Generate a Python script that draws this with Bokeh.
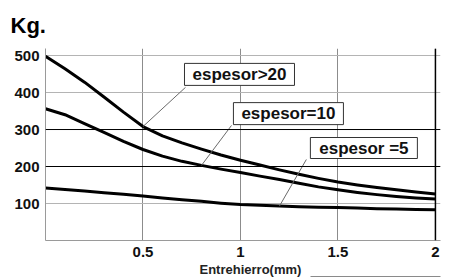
from bokeh.plotting import figure
from bokeh.models import (Label, Span, FixedTicker, ColumnDataSource, Range1d, Title,
                          LinearAxis)
from bokeh.embed import file_html
from bokeh.resources import INLINE

# ---- data ----
gap_mm = [0, 0.1, 0.2, 0.3, 0.4, 0.5, 0.6, 0.7, 0.8, 0.9, 1.0,
          1.1, 1.2, 1.3, 1.4, 1.5, 1.6, 1.7, 1.8, 1.9, 2.0]
kg_esp_gt20 = [498, 464, 428, 388, 347, 308, 283, 264, 247, 231, 217,
               204, 191, 179, 168, 158, 150, 143, 137, 131, 126]
kg_esp_10 = [356, 340, 316, 292, 268, 246, 228, 214, 203, 193, 184,
             174, 165, 155, 145, 137, 130, 124, 119, 115, 112]
kg_esp_5 = [142, 138, 134, 129, 125, 120, 115, 110, 106, 101, 97,
            95, 93, 91, 90, 89, 88, 86, 85, 84, 83]

series_names = ["espesor>20", "espesor=10", "espesor =5"]
x_ticks = [0.5, 1, 1.5, 2]
x_tick_labels = ["0.5", "1", "1.5", "2"]
y_ticks = [100, 200, 300, 400, 500]
y_dark_lines = [200, 300]

y_title = "Kg."
x_title = "Entrehierro(mm)"

FONT = "Liberation Sans"

src = ColumnDataSource(dict(x=gap_mm, a=kg_esp_gt20, b=kg_esp_10, c=kg_esp_5))

p = figure(width=449, height=278,
           x_range=Range1d(0, 2.026), y_range=Range1d(0, 519),
           output_backend="svg", toolbar_location=None,
           min_border_left=45, min_border_right=9,
           min_border_top=48, min_border_bottom=38)
p.outline_line_color = None
p.background_fill_color = "white"
p.border_fill_color = "white"

# title "Kg."
p.title.text = y_title
p.title.align = "left"
p.title.offset = -35
p.title.standoff = 21
p.title.text_font = FONT
p.title.text_font_size = "22px"
p.title.text_font_style = "bold"
p.title.text_color = "black"

# axes
for ax in (p.xaxis[0], p.yaxis[0]):
    ax.axis_line_color = "#9a9a9a"
    ax.axis_line_width = 1
    ax.major_tick_out = 0
    ax.major_tick_in = 0
    ax.minor_tick_out = 0
    ax.minor_tick_in = 0
    ax.major_label_text_font = FONT
    ax.major_label_text_font_style = "bold"
    ax.major_label_text_font_size = "15px"
    ax.major_label_text_color = "#111111"

p.xaxis.ticker = FixedTicker(ticks=x_ticks)
p.yaxis.ticker = FixedTicker(ticks=y_ticks)
p.xaxis.major_label_overrides = dict(zip(x_ticks, x_tick_labels))
p.xaxis.major_label_standoff = 6
p.yaxis.major_label_standoff = 6

# x axis title, below the tick labels, left aligned like the reference
p.add_layout(Title(text=x_title, align="left", offset=154, standoff=0,
                   text_font=FONT, text_font_size="13px", text_font_style="bold",
                   text_color="#222222"), "below")

# thin rule to the right of the x axis title (a bare, bounded axis line)
rule = LinearAxis(bounds=(1.36, 2.03),
                  ticker=FixedTicker(ticks=[]), major_label_text_font_size="0px",
                  major_tick_out=0, major_tick_in=0, minor_tick_out=0, minor_tick_in=0,
                  major_label_standoff=0, axis_line_color="#8a8a8a", axis_line_width=1)
p.add_layout(rule, "below")

p.xgrid.grid_line_color = "#8c8c8c"
p.ygrid.grid_line_color = "#b4b4b4"

for yv in y_dark_lines:
    p.add_layout(Span(location=yv, dimension="width", line_color="black", line_width=1))
p.add_layout(Span(location=x_ticks[-1], dimension="height", line_color="black", line_width=1.5))

# curves
for col in ("a", "b", "c"):
    p.line("x", col, source=src, line_color="black", line_width=3, line_join="round")

# callout boxes and leader lines
i_a = gap_mm.index(0.5)
i_b = gap_mm.index(0.8)
i_c = gap_mm.index(1.2)
leaders = [
    ((0.718, 414), (gap_mm[i_a], kg_esp_gt20[i_a])),
    ((0.954, 311), (gap_mm[i_b], kg_esp_10[i_b])),
    ((1.338, 219), (gap_mm[i_c], kg_esp_5[i_c])),
]
for (x0, y0), (x1, y1) in leaders:
    p.segment(x0=[x0], y0=[y0], x1=[x1], y1=[y1], line_color="#6a6a6a", line_width=1)

box_x = [0.995, 1.246, 1.633]
box_y = [449, 343, 250]
box_w = [110, 110, 107]
box_h = [22, 22, 21]
p.rect(x=box_x, y=box_y, width=box_w, height=box_h,
       width_units="screen", height_units="screen",
       fill_color="white", line_color="#333333", line_width=1)
for name, bx, by in zip(series_names, box_x, box_y):
    p.add_layout(Label(x=bx, y=by, text=name, text_font=FONT, text_font_size="17px",
                       text_font_style="bold", text_color="#111111",
                       text_align="center", text_baseline="middle"))

open("out.html", "w").write(file_html(p, INLINE))
